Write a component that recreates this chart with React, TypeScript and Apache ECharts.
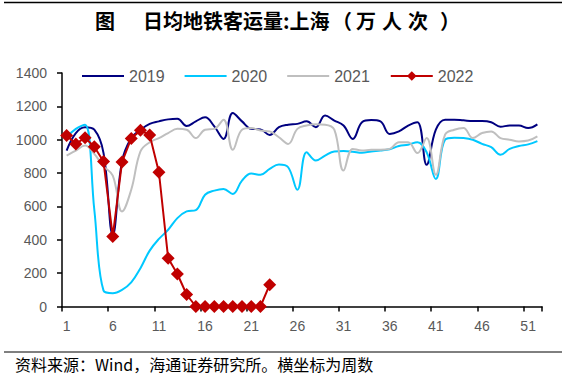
import React, { useEffect, useRef } from "react";
import * as echarts from "echarts";

const weeks: string[] = Array.from({ length: 52 }, (_, i) => String(i + 1));

const y2019 = [
  935, 1040, 1075, 1060, 920, 430, 870, 1010, 1060, 1095,
  1110, 1122, 1126, 1082, 1110, 1135, 1080, 1005, 1160, 1110,
  1065, 1062, 1028, 1075, 1090, 1095, 1110, 1075, 1145, 1115,
  1085, 1005, 1105, 1118, 1110, 1035, 1050, 1085, 1105, 850,
  1060, 1120, 1120, 1116, 1112, 1112, 1105, 1078, 1085, 1085,
  1070, 1092,
];

const y2020 = [
  1015, 1065, 1090, 580, 95, 80, 100, 145, 230, 335,
  405, 460, 530, 570, 578, 670, 695, 705, 675, 755,
  797, 790, 825, 852, 835, 700, 925, 875, 905, 930,
  932, 928, 922, 930, 935, 943, 962, 970, 985, 925,
  765, 1000, 1012, 1010, 1000, 975, 955, 910, 945, 962,
  972, 992,
];

const y2021 = [
  905, 935, 965, 915, 840, 785, 570, 700, 930, 985,
  1010, 1040, 1065, 1060, 1010, 1060, 1065, 1120, 940, 1060,
  1070, 1055, 1050, 1015, 975, 1065, 1085, 1092, 1090, 1060,
  815, 945, 935, 940, 940, 945, 985, 985, 920, 1010,
  790, 1030, 1060, 1070, 1010, 1040, 1050, 1010, 1000, 990,
  995, 1020,
];

const y2022 = [
  1025, 975, 1012, 958, 869, 420, 866, 1008, 1056, 1028,
  805, 289, 195, 72, 0, 0, 0, 0, 0, 0,
  0, 0, 131,
];

const yTicks = { min: 0, max: 1400, interval: 200 };

const titleFig = "图";
const titleMain = "日均地铁客运量:上海";
const titleUnit = ["（", "万", "人", "次", "）"];
const titleUnitX = [342, 366, 392, 418, 450];
const sourceText = "资料来源：Wind，海通证券研究所。横坐标为周数";

const lineIcon = "path://M0,0h42v2h-42z";

export default function App() {
  const ref = useRef<HTMLDivElement>(null);
  useEffect(() => {
    if (!ref.current) return;
    const chart = echarts.init(ref.current, null, { renderer: "svg" });
    const axisLabelStyle = {
      color: "#595959",
      fontSize: 14,
      fontFamily: "Liberation Sans, Arial, sans-serif",
    };
    const titleStyle = {
      fontSize: 20,
      fontWeight: "bold",
      fontFamily: "Noto Sans CJK SC",
      fill: "#000",
      textVerticalAlign: "middle",
    };
    chart.setOption({
      animation: false,
      backgroundColor: "#ffffff",
      grid: { left: 62, right: 24, top: 73, bottom: 73.5, containLabel: false },
      legend: {
        data: [
          { name: "2019", icon: lineIcon },
          { name: "2020", icon: lineIcon },
          { name: "2021", icon: lineIcon },
          { name: "2022" },
        ],
        left: 77,
        top: 63,
        itemWidth: 42,
        itemHeight: 12,
        itemGap: 20,
        textStyle: {
          color: "#595959",
          fontSize: 16,
          fontFamily: "Liberation Sans, Arial, sans-serif",
        },
      },
      xAxis: {
        type: "category",
        data: weeks,
        boundaryGap: true,
        axisLine: { lineStyle: { color: "#000", width: 1.5 } },
        axisTick: { show: true, interval: 4, length: 5, lineStyle: { color: "#000", width: 1.5 } },
        axisLabel: { ...axisLabelStyle, interval: 4, margin: 12 },
        splitLine: { show: false },
      },
      yAxis: {
        type: "value",
        min: yTicks.min,
        max: yTicks.max,
        interval: yTicks.interval,
        axisLine: { show: true, lineStyle: { color: "#000", width: 1.5 } },
        axisTick: { show: true, length: 5, lineStyle: { color: "#000", width: 1.5 } },
        axisLabel: { ...axisLabelStyle, margin: 15, formatter: (v: number) => String(v) },
        splitLine: { show: false },
      },
      series: [
        {
          name: "2019",
          type: "line",
          data: y2019,
          smooth: 0.4,
          showSymbol: false,
          symbol: "none",
          lineStyle: { color: "#000080", width: 2 },
          itemStyle: { color: "#000080" },
        },
        {
          name: "2020",
          type: "line",
          data: y2020,
          smooth: 0.4,
          showSymbol: false,
          symbol: "none",
          lineStyle: { color: "#00C8FF", width: 2 },
          itemStyle: { color: "#00C8FF" },
        },
        {
          name: "2021",
          type: "line",
          data: y2021,
          smooth: 0.4,
          showSymbol: false,
          symbol: "none",
          lineStyle: { color: "#BFBFBF", width: 2 },
          itemStyle: { color: "#BFBFBF" },
        },
        {
          name: "2022",
          type: "line",
          data: y2022,
          smooth: false,
          symbol: "diamond",
          symbolSize: 13,
          showSymbol: true,
          showAllSymbol: true,
          lineStyle: { color: "#C00000", width: 2 },
          itemStyle: { color: "#C00000" },
        },
      ],
      graphic: [
        {
          type: "line",
          shape: { x1: 4, y1: 2.5, x2: 562, y2: 2.5 },
          style: { stroke: "#000", lineWidth: 1.5 },
        },
        {
          type: "text",
          x: 105,
          y: 20,
          style: { ...titleStyle, text: titleFig, textAlign: "center" },
        },
        {
          type: "text",
          x: 143,
          y: 20,
          style: { ...titleStyle, text: titleMain, textAlign: "left" },
        },
        ...titleUnit.map((ch, i) => ({
          type: "text",
          x: titleUnitX[i],
          y: 20,
          style: { ...titleStyle, text: ch, textAlign: "center" },
        })),
        {
          type: "line",
          shape: { x1: 4, y1: 352, x2: 562, y2: 352 },
          style: { stroke: "#000", lineWidth: 1 },
        },
        {
          type: "text",
          x: 15,
          y: 364,
          style: {
            text: sourceText,
            fontSize: 16,
            fontFamily: "Noto Sans CJK SC",
            fill: "#000",
            textAlign: "left",
            textVerticalAlign: "middle",
          },
        },
      ],
    });
    return () => chart.dispose();
  }, []);
  return (
    <div
      ref={ref}
      style={{ position: "fixed", left: 0, top: 0, width: 566, height: 380 }}
    />
  );
}
